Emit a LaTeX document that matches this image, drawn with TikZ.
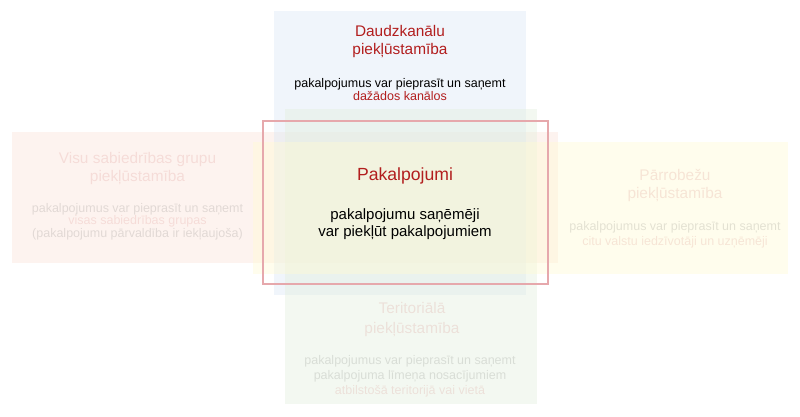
\documentclass[tikz,border=0pt]{standalone}
\usepackage{fontspec}
\setmainfont{Liberation Sans}
\usepackage{tikz}

\definecolor{darkred}{RGB}{178,30,30}
\definecolor{salmonbg}{RGB}{251,227,217}
\definecolor{yellowbg}{RGB}{255,251,211}
\definecolor{bluebg}{RGB}{219,231,245}
\definecolor{greenbg}{RGB}{227,239,221}
\definecolor{frame}{RGB}{230,168,172}

\begin{document}
\begin{tikzpicture}[x=1pt,y=-1pt]
\tikzstyle{area}=[draw=none,inner sep=0pt,fill opacity=0.42]
\tikzstyle{title}=[font=\fontsize{15.4}{18.5}\selectfont,text=darkred,align=center,anchor=north,inner sep=0pt]
\tikzstyle{body}=[font=\fontsize{12.5}{12.5}\selectfont,align=center,anchor=north,inner sep=0pt]
\tikzstyle{faded}=[text opacity=0.11]
%\tikzstyle{faded}=[text opacity=1]

\useasboundingbox (0,0) rectangle (800,416);

\node[area,fill=salmonbg,minimum width=546,minimum height=131] (inclusive) at (285,197.5) {};
\node[area,fill=bluebg,minimum width=252,minimum height=284] (multi) at (400,153) {};
\node[area,fill=greenbg,minimum width=252,minimum height=295] (territorial) at (411,256.5) {};
\node[area,fill=yellowbg,minimum width=535,minimum height=132] (crossborder) at (520.5,208) {};
\node[draw=frame,line width=1.1pt,minimum width=285,minimum height=163,inner sep=0pt] (services) at (405.5,202.5) {};

\node[title] (multititle) at (400,25) {Daudzkanālu\\piekļūstamība};
\node[body] (multitext) at (400,78.7) {pakalpojumus var pieprasīt un saņemt\\\textcolor{darkred}{dažādos kanālos}};

\node[title,faded] (inclusivetitle) at (137.5,152) {Visu sabiedrības grupu\\piekļūstamība};
\node[body,faded] (inclusivetext) at (137.5,203) {pakalpojumus var pieprasīt un saņemt\\\textcolor{darkred}{visas sabiedrības grupas}\\(pakalpojumu pārvaldība ir iekļaujoša)};

\node[title,faded] (crossbordertitle) at (675,169) {Pārrobežu\\piekļūstamība};
\node[body,faded,font=\fontsize{12.5}{15}\selectfont] (crossbordertext) at (675,221) {pakalpojumus var pieprasīt un saņemt\\\textcolor{darkred}{citu valstu iedzīvotāji un uzņēmēji}};

\node[title,faded,font=\fontsize{15.4}{20}\selectfont] (territorialtitle) at (412,302) {Teritoriālā\\piekļūstamība};
\node[body,faded,font=\fontsize{12.5}{15}\selectfont] (territorialtext) at (410,355) {pakalpojumus var pieprasīt un saņemt\\pakalpojuma līmeņa nosacījumiem\\\textcolor{darkred}{atbilstošā teritorijā vai vietā}};

\node[title,font=\fontsize{17.6}{20}\selectfont] (servicestitle) at (405,167.4) {Pakalpojumi};
\node[body,font=\fontsize{15}{17}\selectfont] (servicestext) at (405,208.3) {pakalpojumu saņēmēji\\var piekļūt pakalpojumiem};

\end{tikzpicture}
\end{document}
